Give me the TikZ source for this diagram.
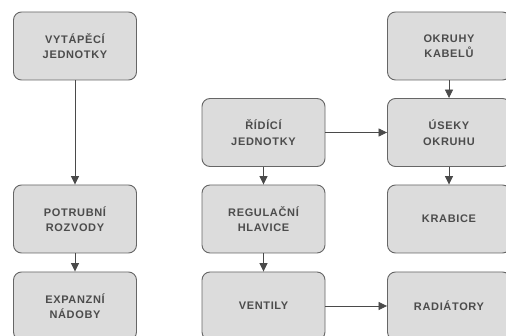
\documentclass[tikz,border=0pt]{standalone}
\usepackage{fontspec}
\newfontfamily\boxfont[LetterSpace=6]{Liberation Sans}
\usetikzlibrary{arrows.meta}
\definecolor{boxfill}{HTML}{DCDCDC}
\definecolor{boxline}{HTML}{666666}
\definecolor{boxtext}{HTML}{4C4C4C}
\definecolor{conn}{HTML}{4A4A4A}
\tikzset{
  blk/.style={draw=boxline, line width=0.9pt, fill=boxfill, rounded corners=8pt,
    minimum width=123pt, minimum height=68pt, inner sep=0pt, align=center,
    text=boxtext, font=\boxfont\bfseries\fontsize{11}{15.5}\selectfont},
  conn/.style={draw=conn, line width=0.8pt, -{Triangle[width=8pt,length=8.5pt]}}
}
\begin{document}
\begin{tikzpicture}[x=1pt,y=-1pt]
\useasboundingbox (0,0) rectangle (506,336);
\fill[white] (0,0) rectangle (506,336);
\node[blk] (vyt) at (75,46) {VYTÁPĚCÍ\\JEDNOTKY};
\node[blk] (pot) at (75,219) {POTRUBNÍ\\ROZVODY};
\node[blk] (exp) at (75,306) {EXPANZNÍ\\NÁDOBY};
\node[blk] (rid) at (263.5,132.5) {ŘÍDÍCÍ\\JEDNOTKY};
\node[blk] (reg) at (263.5,219) {REGULAČNÍ\\HLAVICE};
\node[blk] (ven) at (263.5,306) {VENTILY};
\node[blk] (okr) at (449,46) {OKRUHY\\KABELŮ};
\node[blk] (use) at (449,132.5) {ÚSEKY\\OKRUHU};
\node[blk] (kra) at (449,219) {KRABICE};
\node[blk] (rad) at (449,306) {RADIÁTORY};
\draw[conn] (vyt) -- (pot);
\draw[conn] (pot) -- (exp);
\draw[conn] (rid) -- (reg);
\draw[conn] (reg) -- (ven);
\draw[conn] (okr) -- (use);
\draw[conn] (use) -- (kra);
\draw[conn] (rid) -- (use);
\draw[conn] (ven) -- (rad);
\end{tikzpicture}
\end{document}
